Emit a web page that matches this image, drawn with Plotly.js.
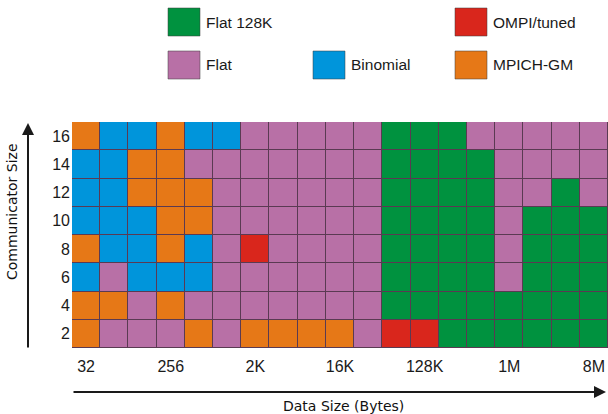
<!DOCTYPE html>
<html><head><meta charset="utf-8">
<script src="https://cdn.plot.ly/plotly-3.0.1.min.js"></script>
<style>html,body{margin:0;padding:0;background:#fff}#chart{width:608px;height:414px}</style>
</head><body><div id="chart"></div>
<script>
// Data sizes (columns) and communicator sizes (rows)
const dataSizes = ["32","64","128","256","512","1K","2K","4K","8K","16K","32K","64K","128K","256K","512K","1M","2M","4M","8M"];
const xTickLabels = ["32","256","2K","16K","128K","1M","8M"];
const commSizes = [2,4,6,8,10,12,14,16];
const algorithms = ["Flat 128K","Flat","Binomial","MPICH-GM","OMPI/tuned"];
const algoColors = ["#00923F","#B870A6","#0095DB","#E67817","#D9261C"];
// Best algorithm per cell: G=Flat 128K, F=Flat, B=Binomial, O=MPICH-GM, R=OMPI/tuned
const row2  = ["O","F","F","F","O","F","O","O","O","O","F","R","R","G","G","G","G","G","G"];
const row4  = ["O","O","F","O","F","F","F","F","F","F","F","G","G","G","G","G","G","G","G"];
const row6  = ["B","F","B","B","B","F","F","F","F","F","F","G","G","G","G","F","G","G","G"];
const row8  = ["O","B","B","O","B","F","R","F","F","F","F","G","G","G","G","F","G","G","G"];
const row10 = ["B","B","B","O","O","F","F","F","F","F","F","G","G","G","G","F","G","G","G"];
const row12 = ["B","B","O","O","O","F","F","F","F","F","F","G","G","G","G","F","F","G","F"];
const row14 = ["B","B","O","O","F","F","F","F","F","F","F","G","G","G","G","F","F","F","F"];
const row16 = ["O","B","B","O","B","B","F","F","F","F","F","G","G","G","F","F","F","F","F"];
const rows = [row2,row4,row6,row8,row10,row12,row14,row16];
const code = {G:0,F:1,B:2,O:3,R:4};

const z = rows.map(r => r.map(c => code[c]));
const cs = [];
algoColors.forEach((c,i)=>{ cs.push([i/5,c]); cs.push([(i+1)/5,c]); });

const trace = {
  type:"heatmap", z:z,
  x:dataSizes.map((_,i)=>i), y:commSizes.map((_,i)=>i),
  zmin:-0.5, zmax:4.5, colorscale:cs, showscale:false,
  xgap:1, ygap:1, hoverinfo:"skip"
};

const font = "Liberation Sans, Arial, sans-serif";
const titleFont = "DejaVu Sans, Verdana, sans-serif";
const annotations = [];
const shapes = [];
const legendPos = [
  {i:0, x:168, y:8},
  {i:4, x:455, y:8},
  {i:1, x:168, y:51},
  {i:2, x:313, y:51},
  {i:3, x:455, y:51}
];
const W=536, H=226, L=72, T=122;
const px = x => (x-L)/W, py = y => (T+H-y)/H;
legendPos.forEach(p=>{
  shapes.push({type:"rect", xref:"paper", yref:"paper",
    x0:px(p.x), x1:px(p.x+32), y0:py(p.y+28), y1:py(p.y),
    fillcolor:algoColors[p.i], line:{color:"rgba(60,60,60,0.5)",width:1}});
  annotations.push({xref:"paper", yref:"paper", x:px(p.x+36), y:py(p.y+14), xanchor:"left", yanchor:"middle",
    text:algorithms[p.i], showarrow:false, font:{family:font,size:15.5,color:"#1a1a1a"}});
});
// axis arrows
annotations.push({xref:"paper", yref:"paper", x:px(606), y:py(392), ax:-534, ay:0, axref:"pixel", ayref:"pixel",
  showarrow:true, arrowhead:2, arrowsize:1.2, arrowwidth:2, arrowcolor:"#1a1a1a", text:""});
annotations.push({xref:"paper", yref:"paper", x:px(28), y:py(123), ax:0, ay:226, axref:"pixel", ayref:"pixel",
  showarrow:true, arrowhead:2, arrowsize:1.2, arrowwidth:2, arrowcolor:"#1a1a1a", text:""});
annotations.push({xref:"paper", yref:"paper", x:px(343), y:py(406), xanchor:"center", yanchor:"middle",
  text:"Data Size (Bytes)", showarrow:false, font:{family:titleFont,size:14,color:"#111"}});
annotations.push({xref:"paper", yref:"paper", x:px(12), y:py(212), xanchor:"center", yanchor:"middle", textangle:-90,
  text:"Communicator Size", showarrow:false, font:{family:titleFont,size:14,color:"#111"}});

const layout = {
  width:608, height:414,
  margin:{l:72, r:0, t:122, b:66, pad:0},
  paper_bgcolor:"#fff", plot_bgcolor:"#5a3a52",
  xaxis:{range:[-0.5,18.5], tickvals:[0,3,6,9,12,15,18], ticktext:xTickLabels, ticklabelstandoff:7,
    showgrid:false, zeroline:false, ticks:"", ticklen:0, tickfont:{family:font,size:16,color:"#1a1a1a"}, fixedrange:true},
  yaxis:{range:[-0.5,7.5], tickvals:commSizes.map((_,i)=>i), ticktext:commSizes.map(String), ticklabelstandoff:1,
    showgrid:false, zeroline:false, ticks:"", tickfont:{family:font,size:16,color:"#1a1a1a"}, fixedrange:true},
  shapes:shapes, annotations:annotations, showlegend:false
};
Plotly.newPlot("chart",[trace],layout,{displayModeBar:false,staticPlot:true});
</script></body></html>
